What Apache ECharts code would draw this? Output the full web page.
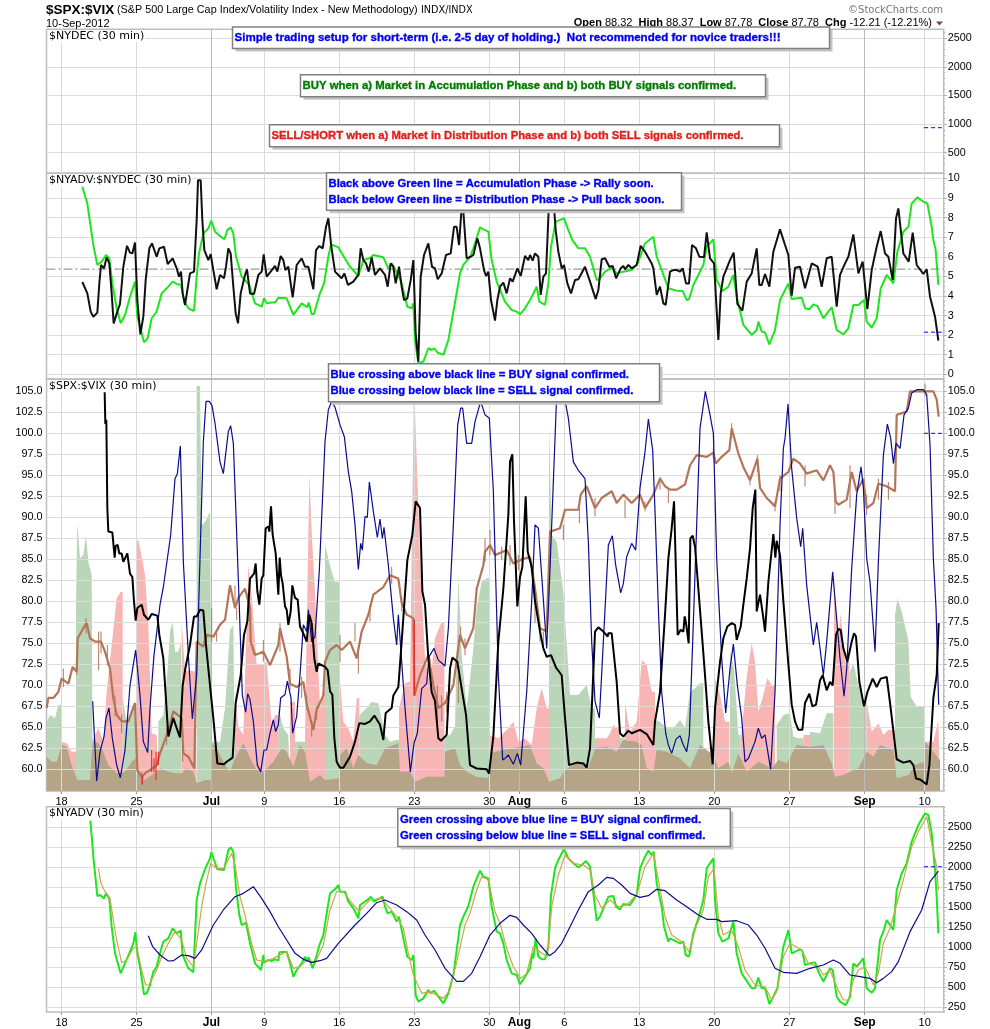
<!DOCTYPE html>
<html>
<head>
<meta charset="utf-8">
<style>html,body{margin:0;padding:0;background:#fff}#c{width:990px;height:1029px}</style>
<script src="https://cdn.jsdelivr.net/npm/echarts@6/dist/echarts.min.js"></script>
</head>
<body>
<div id="c"></div>
<script>
// x of every series is a trading-session scale: 45 units = one trading day
const sessionMin = 139.5, sessionMax = 2831;
const dateTicks = [[184.5,'18'],[409.5,'25'],[634.5,'Jul'],[793,'9'],[1018,'16'],[1243,'23'],[1468,'30'],[1558,'Aug'],[1693,'6'],[1918,'13'],[2143,'20'],[2368,'27'],[2594,'Sep'],[2774,'10']];
const nydecTicks = [500,1000,1500,2000,2500];
const ratioTicks = [0,1,2,3,4,5,6,7,8,9,10];
const spxVixTicks = [60,62.5,65,67.5,70,72.5,75,77.5,80,82.5,85,87.5,90,92.5,95,97.5,100,102.5,105];
const nyadvTicks = [250,500,750,1000,1250,1500,1750,2000,2250,2500];

const ratioBlack = [[247,4.71],[262,4.13],[272,3.20],[280,2.94],[292,3.15],[298,4.64],[303,5.58],[312,5.41],[320,5.97],[328,5.66],[335,4.13],[341,2.60],[352,3.20],[360,3.59],[370,5.49],[381,6.56],[390,6.21],[397,6.17],[405,6.73],[412,3.79],[421,2.04],[430,2.94],[437,4.81],[448,6.43],[456,6.68],[470,6.00],[478,6.43],[492,6.51],[503,5.63],[518,5.92],[530,5.41],[537,4.98],[543,5.24],[548,4.13],[555,3.54],[570,5.15],[582,5.24],[590,7.87],[594,9.91],[602,9.91],[607,7.87],[613,6.34],[625,5.83],[632,6.14],[640,5.32],[650,4.34],[660,5.07],[672,4.90],[678,5.49],[685,6.43],[692,6.17],[700,4.47],[707,3.11],[714,2.60],[722,4.13],[735,5.07],[741,5.36],[750,4.13],[762,4.10],[775,5.07],[785,5.24],[791,6.12],[800,4.98],[812,5.24],[825,5.53],[832,5.24],[842,6.04],[850,5.83],[856,5.32],[865,5.49],[878,3.93],[890,5.58],[905,5.92],[915,5.49],[925,5.49],[940,4.34],[948,6.34],[958,6.55],[968,6.43],[978,7.53],[985,7.96],[994,6.51],[1005,5.24],[1015,5.07],[1025,4.90],[1033,5.15],[1044,4.56],[1060,4.73],[1075,5.07],[1082,6.43],[1090,5.83],[1098,5.66],[1106,5.24],[1115,5.97],[1125,5.07],[1140,5.41],[1155,5.07],[1163,4.47],[1172,5.66],[1180,5.49],[1187,4.64],[1197,5.49],[1205,4.47],[1212,3.79],[1222,3.88],[1232,4.81],[1240,5.83],[1247,2.09],[1255,0.65],[1262,4.98],[1272,6.09],[1285,6.68],[1296,5.49],[1305,5.41],[1313,4.85],[1325,5.15],[1330,5.12],[1338,6.09],[1352,6.17],[1362,7.53],[1370,7.53],[1377,6.60],[1384,8.30],[1390,8.30],[1400,5.92],[1412,6.00],[1420,6.09],[1432,6.94],[1440,6.43],[1452,5.32],[1458,5.02],[1465,5.24],[1473,3.79],[1485,2.74],[1492,3.79],[1500,4.47],
[1510,4.68],[1520,4.13],[1530,4.90],[1538,4.73],[1552,5.41],[1562,5.02],[1575,6.04],[1585,5.83],[1590,6.09],[1598,5.80],[1605,6.17],[1615,6.00],[1622,4.05],[1630,4.98],[1638,5.15],[1648,9.20],[1660,9.00],[1667,7.36],[1675,6.26],[1685,5.41],[1692,5.58],[1702,4.64],[1713,4.13],[1725,4.81],[1735,4.85],[1755,5.49],[1770,4.73],[1787,3.84],[1795,4.30],[1805,5.87],[1815,5.92],[1828,5.49],[1838,5.53],[1848,4.90],[1862,5.41],[1870,5.53],[1875,5.36],[1885,5.58],[1895,5.41],[1910,5.58],[1922,6.56],[1935,6.26],[1955,5.66],[1960,5.41],[1970,4.05],[1980,4.47],[1990,3.62],[1997,3.54],[2010,5.24],[2020,5.32],[2030,5.32],[2040,5.24],[2048,5.41],[2058,4.64],[2067,4.64],[2076,6.60],[2088,6.43],[2098,6.00],[2112,5.97],[2120,7.24],[2130,5.92],[2142,5.66],[2155,1.75],[2162,4.13],[2170,4.98],[2190,5.83],[2201,6.21],[2212,3.59],[2227,3.25],[2240,4.73],[2255,5.15],[2270,6.43],[2278,4.56],[2285,4.56],[2295,5.12],[2308,4.47],[2320,6.26],[2340,7.40],[2355,6.60],[2365,6.09],[2375,4.01],[2385,5.44],[2400,5.49],[2415,4.39],[2435,5.66],[2453,5.49],[2465,4.47],[2480,5.92],[2495,6.00],[2510,3.45],[2520,5.07],[2535,5.66],[2545,6.00],[2560,7.14],[2575,5.15],[2588,5.75],[2602,3.32],[2615,5.32],[2630,6.51],[2642,7.31],[2655,6.17],[2665,6.00],[2678,4.81],[2688,7.96],[2695,8.47],[2710,6.17],[2726,5.75],[2738,7.23],[2750,5.58],[2770,5.12],[2780,5.36],[2790,3.96],[2805,2.94],[2815,1.72]];

const ratioGreen = [[247,9.57],[262,8.72],[272,7.53],[280,6.60],[292,5.58],[305,5.75],[318,6.09],[328,5.92],[337,4.64],[350,3.37],[362,2.60],[375,3.03],[390,3.96],[405,4.73],[412,2.94],[420,2.43],[432,1.63],[443,1.84],[455,2.86],[470,3.20],[485,4.13],[500,4.39],[518,4.73],[530,4.61],[543,4.56],[553,3.71],[565,3.37],[582,3.23],[590,4.98],[597,6.17],[610,7.19],[625,7.45],[634,7.84],[645,7.28],[660,7.06],[673,6.89],[682,7.36],[692,7.50],[700,7.19],[708,6.00],[725,4.98],[748,4.56],[765,3.62],[785,3.45],[792,3.88],[800,3.62],[815,3.66],[825,3.66],[835,3.91],[860,3.88],[880,3.03],[905,3.62],[922,3.42],[926,3.66],[935,3.08],[942,3.08],[958,4.05],[972,4.64],[985,6.00],[993,6.63],[1015,6.48],[1030,6.04],[1050,5.49],[1075,5.02],[1090,5.83],[1110,5.92],[1120,6.09],[1150,5.97],[1165,5.41],[1175,5.66],[1195,5.07],[1205,4.64],[1222,3.45],[1235,3.37],[1240,3.62],[1245,1.75],[1255,0.56],[1270,0.65],[1285,1.33],[1295,1.24],[1303,1.33],[1312,1.11],[1330,0.99],[1345,1.75],[1362,3.37],[1380,5.15],[1390,5.58],[1410,6.00],[1420,6.43],[1440,7.50],[1450,7.40],[1465,7.28],[1475,5.83],[1490,4.73],
[1515,3.71],[1535,3.28],[1550,3.20],[1560,3.06],[1575,3.37],[1590,3.79],[1598,4.05],[1603,3.96],[1610,4.47],[1618,3.71],[1635,3.54],[1645,4.64],[1653,6.51],[1667,7.79],[1692,7.96],[1705,7.36],[1717,6.85],[1735,6.43],[1755,6.43],[1770,6.00],[1790,4.81],[1800,4.90],[1815,5.24],[1835,5.44],[1850,5.15],[1870,5.24],[1895,5.32],[1913,5.66],[1935,6.68],[1960,7.02],[1970,6.00],[1985,5.32],[2005,4.39],[2030,4.27],[2048,4.25],[2060,3.79],[2067,3.83],[2080,4.56],[2110,5.58],[2120,6.51],[2140,6.89],[2150,4.81],[2167,4.25],[2185,4.47],[2200,5.07],[2210,3.96],[2230,2.52],[2255,2.01],[2270,2.26],[2275,2.69],[2285,2.18],[2295,2.13],[2308,1.53],[2325,2.26],[2340,3.79],[2365,4.64],[2375,3.84],[2405,3.91],[2415,3.37],[2428,3.32],[2440,3.57],[2452,3.49],[2470,2.86],[2485,3.20],[2495,3.42],[2510,2.26],[2530,2.04],[2545,2.35],[2560,3.54],[2575,3.54],[2592,3.79],[2600,2.69],[2615,2.38],[2630,2.86],[2642,4.39],[2660,5.07],[2680,4.64],[2692,6.26],[2710,7.28],[2725,7.53],[2735,8.72],[2752,9.03],[2770,8.81],[2782,8.72],[2795,7.53],[2800,6.85],[2807,6.34],[2815,4.56]];

const spxVixBlack = [[314,104.9],[316,101.1],[319,101.6],[322,91.1],[325,88.3],[337,88.2],[344,85.2],[347,86.6],[353,86.7],[358,85.7],[365,85.7],[370,84.7],[382,85.7],[390,83.3],[397,82.9],[402,80.0],[407,77.7],[412,79.2],[425,79.6],[432,78.4],[445,77.8],[455,78.5],[472,78.3],[478,76.0],[490,73.2],[497,68.9],[505,63.9],[520,66.1],[530,64.9],[540,63.8],[548,70.0],[556,72.0],[570,74.8],[582,78.2],[590,78.2],[600,79.0],[610,78.9],[618,74.8],[630,70.0],[640,66.1],[652,60.7],[672,60.6],[680,60.9],[698,61.4],[707,67.9],[722,71.2],[732,76.0],[742,77.6],[750,82.7],[762,83.3],[767,84.5],[772,81.2],[778,79.6],[785,82.7],[790,83.1],[797,88.7],[805,88.9],[808,88.3],[813,91.3],[818,87.9],[827,85.7],[835,80.8],[839,85.2],[843,83.1],[848,82.1],[855,79.4],[860,79.0],[865,77.2],[872,78.8],[877,81.9],[885,80.4],[893,80.2],[900,77.0],[912,76.0],[920,75.2],[928,78.4],[935,77.4],[943,73.2],[950,71.6],[955,72.6],[975,72.2],[983,71.8],[990,69.3],[997,68.9],[1003,63.7],[1010,60.9],[1020,60.2],
[1030,60.2],[1050,61.5],[1065,63.3],[1078,65.5],[1095,65.4],[1110,65.7],[1123,66.4],[1140,65.3],[1150,63.5],[1157,66.7],[1175,67.3],[1180,68.8],[1195,69.8],[1205,75.2],[1222,84.9],[1237,87.9],[1247,91.9],[1260,91.1],[1267,81.2],[1275,79.6],[1285,73.2],[1295,69.2],[1305,68.1],[1315,63.7],[1323,63.4],[1340,64.1],[1350,72.0],[1357,73.3],[1372,72.8],[1385,69.6],[1398,66.5],[1410,60.5],[1430,60.1],[1460,60.0],[1467,59.5],[1480,63.9],[1495,75.2],[1510,81.5],[1525,90.3],[1530,96.6],[1537,97.5],[1542,89.5],[1552,79.4],[1560,82.9],[1567,84.1],[1577,92.5],[1583,85.9],[1595,84.1],[1605,80.0],[1620,76.4],[1630,74.4],[1640,73.4],[1653,73.6],[1668,72.1],[1685,71.2],[1695,66.1],[1707,60.5],[1730,60.8],[1750,60.7],[1760,60.2],[1770,62.5],[1780,71.6],[1785,76.4],[1795,76.9],[1810,76.4],[1823,75.8],[1825,76.2],[1835,76.2],[1850,70.4],[1860,64.3],[1870,63.9],[1885,64.6],[1895,64.3],[1920,64.7],[1940,64.2],[1960,62.9],[1965,65.7],[1980,69.2],[1995,78.4],
[2005,85.1],[2015,88.7],[2022,91.9],[2027,91.9],[2033,76.0],[2042,76.6],[2050,76.4],[2054,78.2],[2058,77.4],[2066,75.0],[2071,87.5],[2078,87.8],[2085,86.5],[2095,81.5],[2105,76.4],[2115,71.2],[2125,65.7],[2138,60.6],[2145,67.3],[2160,72.8],[2170,75.6],[2182,77.0],[2195,77.4],[2205,77.2],[2210,75.4],[2222,77.0],[2230,79.6],[2240,82.7],[2250,86.3],[2258,91.1],[2266,93.3],[2270,78.8],[2280,80.8],[2290,78.0],[2295,76.4],[2305,82.3],[2310,82.5],[2320,88.0],[2326,85.2],[2330,87.2],[2340,85.5],[2350,80.0],[2362,74.0],[2375,67.7],[2385,65.7],[2395,64.7],[2407,64.7],[2415,67.9],[2428,69.0],[2437,67.5],[2448,67.7],[2460,70.6],[2468,71.2],[2480,69.4],[2490,70.4],[2498,70.0],[2508,76.0],[2515,76.7],[2522,76.6],[2530,74.4],[2542,72.8],[2555,75.2],[2562,76.2],[2568,75.8],[2578,70.4],[2592,67.5],[2602,69.2],[2618,70.8],[2630,69.8],[2642,70.8],[2660,71.0],[2670,67.9],[2690,61.2],[2710,60.8],[2730,61.0],[2740,60.5],[2748,58.9],[2760,58.8],[2780,58.2],[2788,60.5],[2800,68.5],[2810,71.2],[2816,77.4]];

const spxVixBlue = [[278,68.1],[283,68.1],[290,58.6],[300,62.1],[312,63.9],[318,66.1],[327,67.3],[337,63.7],[350,60.5],[361,59.0],[375,62.3],[390,70.0],[407,74.2],[420,68.8],[430,63.3],[443,62.0],[450,67.3],[462,73.6],[480,79.6],[490,81.7],[505,85.9],[512,87.9],[525,94.6],[532,95.2],[541,98.5],[550,84.7],[565,73.6],[577,66.0],[590,71.2],[600,85.1],[610,99.0],[618,103.8],[628,103.8],[636,103.3],[645,101.2],[660,96.6],[670,95.2],[685,100.2],[692,100.9],[700,98.8],[708,90.3],[718,79.2],[727,68.8],[737,66.8],[743,69.0],[750,68.3],[760,65.7],[772,60.5],[782,59.7],[792,62.3],[800,62.3],[810,64.3],[820,65.9],[827,64.5],[835,65.3],[842,68.5],[855,68.9],[862,70.5],[873,68.5],[878,64.3],[890,66.3],[900,71.2],[910,77.2],[920,76.4],[925,79.0],[935,75.2],[945,75.8],[958,83.7],[962,83.9],[975,99.0],[985,102.8],[995,103.8],[1005,103.1],[1020,101.0],
[1033,99.6],[1045,95.4],[1055,93.1],[1065,89.1],[1075,83.8],[1082,86.9],[1087,86.1],[1095,90.1],[1102,90.0],[1108,94.2],[1120,90.7],[1132,87.6],[1140,89.8],[1147,87.5],[1152,88.8],[1165,84.3],[1180,78.0],[1190,74.8],[1195,78.4],[1205,72.8],[1215,67.3],[1231,59.7],[1242,63.1],[1252,64.3],[1265,69.6],[1280,70.2],[1287,73.4],[1302,74.4],[1315,73.0],[1335,72.3],[1345,76.8],[1360,89.1],[1373,101.0],[1382,103.0],[1388,103.0],[1400,98.8],[1415,98.8],[1425,101.4],[1442,103.8],[1455,102.2],[1468,101.8],[1480,93.1],[1495,71.2],[1508,61.1],[1515,61.3],[1525,61.7],[1540,60.6],[1552,61.9],[1562,60.5],[1580,69.2],[1595,80.0],[1605,89.1],[1615,88.7],[1625,83.1],[1640,74.4],[1650,83.9],[1670,104.6],[1690,105.0],[1705,101.8],[1720,96.6],[1735,95.6],[1755,94.6],[1765,87.1],[1775,75.2],[1785,68.1],[1798,66.1],[1810,75.2],[1825,86.7],[1837,87.8],[1847,84.3],[1862,81.0],[1870,82.1],[1880,85.3],[1895,86.9],[1907,86.1],[1920,93.5],[1935,97.8],[1945,101.7],
[1958,98.0],[1965,90.7],[1975,79.2],[1985,69.2],[1997,64.3],[2005,62.9],[2015,61.9],[2028,63.6],[2040,64.0],[2050,62.9],[2060,62.1],[2068,64.1],[2078,75.2],[2090,89.1],[2100,100.6],[2116,105.0],[2130,102.2],[2140,100.0],[2150,85.1],[2165,73.2],[2177,66.7],[2190,72.0],[2200,74.9],[2212,70.0],[2225,66.1],[2235,60.9],[2245,61.3],[2265,63.3],[2275,64.9],[2285,63.7],[2295,64.1],[2312,60.0],[2325,69.2],[2340,89.1],[2350,98.2],[2355,99.4],[2364,103.5],[2375,95.8],[2390,89.9],[2402,86.5],[2408,88.7],[2420,81.9],[2440,74.8],[2450,77.5],[2460,74.4],[2470,71.2],[2480,75.2],[2498,83.5],[2502,83.5],[2520,73.2],[2532,68.7],[2540,72.0],[2555,83.9],[2570,92.7],[2583,96.0],[2590,93.5],[2600,85.1],[2610,82.3],[2625,74.0],[2635,84.7],[2650,97.4],[2662,101.1],[2672,99.4],[2680,96.4],[2688,98.8],[2700,98.2],[2712,102.2],[2725,103.0],[2735,104.8],[2750,105.2],[2770,105.2],[2780,104.6],[2790,98.6],[2800,85.1],[2808,79.2],[2816,67.7]];

const spxVixPrice = [[140,67.3],[145,68.5],[160,68.5],[175,69.2],[185,70.8],[205,70.2],[218,72.2],[230,71.6],[233,75.6],[250,76.8],[260,77.4],[270,75.6],[285,75.2],[303,75.2],[315,74.0],[330,72.0],[340,68.5],[350,66.5],[365,65.7],[385,65.7],[405,67.9],[412,59.9],[425,59.1],[440,59.7],[450,59.9],[470,60.5],[480,61.9],[495,63.5],[510,65.3],[520,66.9],[545,66.1],[550,61.9],[565,61.5],[583,60.1],[590,75.2],[610,74.6],[620,76.0],[640,75.8],[660,77.2],[675,77.8],[690,81.9],[705,79.2],[715,80.4],[735,81.5],[750,79.2],[752,75.2],[765,73.6],[790,74.0],[810,72.4],[835,74.8],[840,76.8],[860,73.4],[870,70.2],[890,69.8],[910,70.4],[920,67.7],[940,64.7],[950,67.1],[970,68.8],[975,72.8],[990,74.2],[1010,74.8],[1025,74.2],
[1050,75.2],[1070,73.2],[1085,76.4],[1105,78.4],[1120,80.8],[1150,81.7],[1170,83.1],[1195,82.7],[1205,79.8],[1220,78.4],[1240,78.0],[1243,68.8],[1260,71.2],[1285,73.6],[1300,70.0],[1315,67.3],[1335,67.9],[1360,70.0],[1380,76.0],[1395,74.4],[1420,76.8],[1430,81.5],[1450,84.3],[1455,85.9],[1470,86.7],[1485,85.5],[1520,86.1],[1540,84.5],[1560,84.9],[1590,85.3],[1605,81.5],[1620,76.8],[1640,76.4],[1650,88.3],[1680,88.7],[1695,90.9],[1735,90.9],[1742,92.7],[1760,93.7],[1785,91.1],[1805,92.3],[1835,93.1],[1850,91.7],[1870,92.7],[1895,91.7],[1920,92.7],[1935,91.1],[1960,92.7],
[1980,94.6],[1995,93.7],[2010,93.3],[2030,93.3],[2055,93.9],[2070,96.2],[2090,97.4],[2120,97.2],[2140,97.7],[2147,96.4],[2165,97.2],[2188,98.0],[2195,100.6],[2215,97.6],[2232,95.8],[2250,94.4],[2272,97.0],[2280,93.5],[2300,92.3],[2325,91.3],[2340,94.6],[2365,95.4],[2380,97.0],[2400,96.4],[2420,95.2],[2450,95.6],[2470,94.4],[2490,96.2],[2500,95.4],[2507,91.9],[2515,91.5],[2540,92.1],[2555,95.4],[2570,93.1],[2590,94.6],[2600,91.1],[2620,91.7],[2635,94.0],[2660,93.7],[2685,93.1],[2690,102.2],[2720,102.6],[2730,105.0],[2775,105.0],[2800,105.0],[2810,104.0],[2816,102.0]];

// high-low range of individual price bars that stick out from the line
const priceRanges = [[190,72.0,69.8],[230,72.8,71.2],[258,78.0,76.2],[296,76.4,71.8],[303,76.4,73.8],[322,74.8,72.4],[345,68.8,66.3],[365,66.5,64.3],[425,59.7,58.2],[500,65.0,62.9],[548,61.9,60.9],[635,79.2,75.2],[650,76.4,75.2],[705,81.9,79.2],[710,79.2,77.8],[790,75.4,72.8],[840,77.4,74.0],[870,72.0,69.4],[905,71.0,68.5],[920,68.8,67.1],[935,65.3,63.9],[950,67.5,65.9],[1020,76.0,72.8],[1065,77.4,75.2],[1075,74.4,71.4],[1110,79.6,77.6],[1175,84.1,82.1],[1205,80.4,78.8],[1290,73.2,70.8],[1312,70.0,65.6],[1325,68.8,65.7],[1340,69.2,66.7],[1375,71.2,67.9],[1382,77.0,75.2],[1395,75.6,73.6],[1455,87.5,84.7],[1470,88.5,85.5],[1505,86.5,84.9],[1530,86.7,84.3],[1555,85.5,83.7],[1605,81.9,77.4],[1620,77.2,75.2],[1630,76.4,74.4],[1690,89.1,87.3],[1738,91.1,89.3],[1785,92.3,90.1],[1875,92.1,89.9],[1935,91.9,90.7],[1980,94.8,93.3],[2005,93.3,91.7],[2140,98.2,97.0],[2195,101.2,99.4],[2250,95.0,93.8],[2272,97.4,95.4],[2325,91.9,90.7],[2340,95.0,93.1],[2415,96.2,93.7],[2505,92.7,90.4],[2550,96.2,91.1],[2600,92.7,90.3],[2635,94.6,92.1],[2665,94.2,92.1],[2775,105.9,104.4]];
const priceDownTicks = [[[1243,77.8],[1243,68.7]],[[427,59.3],[427,58.2]],[[455,62.3],[455,59.7]],[[462,61.3],[462,59.7]],[[468,62.1],[468,58.7]],[[475,62.1],[475,60.5]]];

// volume, read in its own unlabelled units (tall blocks are a higher volume)
const greenVolume = [
[[140,20.8],[150,22.8],[165,21.8],[175,25.8],[185,25.8]],
[[228,55.8],[232,80.3],[240,69.8],[250,70.8],[258,76.8],[265,68.8],[275,64.8],[278,64.8]],
[[368,27.8],[380,20.8],[395,24.8],[408,24.8]],
[[475,20.8],[490,22.8],[503,36.8],[510,47.8],[518,50.8],[525,41.8],[535,41.8],[543,44.8],[545,44.8]],
[[590,121.5],[600,121.5],[605,79.8],[615,80.8],[630,83.8],[635,14.8],[660,14.8],[675,24.8],[690,48.3],[700,49.8],[705,49.8]],
[[835,24.8],[850,18.8],[865,16.8],[870,16.8]],
[[885,14.8],[915,14.8]],
[[975,73.8],[995,65.8],[1005,62.8],[1018,62.8]],
[[1078,22.8],[1100,24.8],[1115,26.8],[1135,26.3],[1155,16.8],[1170,14.8],[1185,15.3],[1197,15.3]],
[[1333,16.3],[1350,16.8],[1365,19.3],[1375,64.8],[1385,40.8],[1400,24.8],[1420,42.8],[1430,54.8],[1445,62.8],[1460,63.8],[1468,63.8]],
[[1647,110.3],[1655,76.8],[1670,74.8],[1690,59.8],[1710,28.8],[1735,28.8],[1760,31.8],[1775,24.8],[1785,24.8]],
[[1860,15.8],[1875,15.8]],
[[1965,21.3],[1980,20.8],[2000,18.8],[2020,18.8],[2040,21.3],[2055,18.8],[2070,29.8],[2085,30.8],[2100,32.3],[2110,32.3]],
[[2190,41.8],[2202,36.8],[2215,16.8],[2222,16.8]],
[[2330,19.8],[2350,22.8],[2370,23.3],[2380,16.3],[2395,15.8],[2410,15.8]],
[[2430,17.8],[2460,17.3],[2480,23.3],[2500,23.3]],
[[2548,35.3],[2560,38.3],[2575,31.8],[2590,27.3],[2600,27.3]],
[[2685,52.8],[2692,57.8],[2705,53.8],[2725,45.3],[2732,28.3],[2750,25.3],[2772,25.3]]];
const redVolume = [
[[185,14.8],[200,14.3],[215,11.8],[228,11.8]],
[[278,15.3],[295,18.8],[310,14.8],[320,29.8],[335,43.8],[350,57.8],[362,59.8],[368,59.8]],
[[408,74.8],[415,75.3],[425,70.3],[435,64.8],[445,49.8],[455,17.3],[470,16.8],[475,16.8]],
[[545,50.8],[555,35.8],[570,36.3],[585,35.8],[590,35.8]],
[[705,30.8],[715,19.3],[730,16.8],[745,67.8],[755,58.8],[770,37.8],[785,37.8],[800,38.8],[815,19.8],[825,22.8],[835,22.8]],
[[870,26.8],[885,26.8]],
[[915,17.3],[928,94.8],[935,77.8],[945,59.8],[960,24.8],[968,29.8],[975,29.8]],
[[1018,35.3],[1030,20.8],[1045,18.8],[1060,14.8],[1070,27.8],[1078,27.8]],
[[1197,24.8],[1215,32.3],[1230,32.8],[1242,123],[1250,99.8],[1260,69.8],[1275,39.8],[1290,31.8],[1305,45.8],[1325,50.8],[1333,50.8]],
[[1468,16.8],[1495,15.8],[1525,18.8],[1540,20.8],[1555,14.8],[1575,15.8],[1595,13.8],[1610,24.8],[1625,30.8],[1640,24.8],[1647,24.8]],
[[1785,15.8],[1820,15.8],[1830,17.3],[1840,19.8],[1850,18.8],[1860,18.8]],
[[1875,26.3],[1890,17.8],[1910,20.8],[1925,39.3],[1940,37.8],[1955,29.8],[1965,29.8]],
[[2145,33.8],[2160,28.8],[2175,20.8],[2188,20.8]],
[[2222,14.8],[2240,34.3],[2255,44.3],[2265,38.8],[2275,23.8],[2290,28.8],[2302,33.8],[2315,31.8],[2325,31.8]],
[[2410,16.8],[2430,16.8]],
[[2502,62.3],[2515,45.8],[2522,53.3],[2535,38.8],[2548,38.8]],
[[2600,26.8],[2615,17.8],[2635,20.3],[2650,16.8],[2665,18.3],[2685,18.3]],
[[2775,14.8],[2800,14.8],[2815,21.3],[2820,21.3]]];
const baseVolume = [[140,10.3],[155,8.8],[170,8.8],[185,13.8],[200,13.3],[215,7.8],[232,3.3],[270,3.3],[278,15.3],[295,14.3],[310,11.8],[325,7.8],[350,5.3],[375,5.8],[395,8.8],[408,9.8],[415,6.3],[435,3.3],[455,4.8],[480,6.8],[505,5.8],[530,5.3],[545,5.3],[560,6.8],[580,5.8],[590,2.3],[615,3.3],[635,3.3],[637,14.3],[655,11.8],[675,7.8],[690,5.8],[705,9.8],[730,14.3],[750,9.8],[770,6.3],[790,5.8],[820,8.8],[845,12.8],[860,11.8],[880,7.3],[900,13.8],[915,11.8],[930,2.8],[960,4.8],[975,3.3],[1018,3.8],
[1020,10.8],[1040,12.8],[1060,6.8],[1075,10.8],[1100,8.3],[1130,7.8],[1155,12.8],[1195,14.3],[1200,5.8],[1230,5.8],[1245,2.8],[1280,4.3],[1333,4.3],[1335,11.8],[1365,12.8],[1380,7.8],[1400,5.8],[1430,4.3],[1465,3.8],[1470,11.3],[1510,12.3],[1560,13.3],[1590,13.8],[1610,8.3],[1630,6.8],[1647,2.8],[1680,3.8],[1695,6.3],[1735,8.8],[1765,6.8],[1785,12.8],[1820,13.3],[1850,11.8],[1870,15.3],[1910,14.8],[1925,13.8],[1940,6.8],[1960,5.8],
[1970,12.3],[2000,11.8],[2040,9.8],[2070,6.8],[2100,13.8],[2140,10.8],[2155,6.8],[2185,8.8],[2195,5.3],[2215,11.3],[2240,5.8],[2275,8.8],[2315,6.8],[2335,9.3],[2360,8.3],[2390,13.8],[2430,13.3],[2470,13.8],[2495,8.3],[2505,4.3],[2530,4.8],[2550,5.8],[2575,6.8],[2600,11.8],[2620,10.3],[2640,13.8],[2680,12.3],[2690,3.8],[2725,4.8],[2745,7.8],[2772,8.8],[2775,14.8],[2820,9.3]];

const nyadvGreen = [[271,2583],[281,2092],[292,1642],[300,1654],[312,1612],[318,1675],[328,1612],[335,1258],[345,925],[362,675],[375,800],[390,946],[400,1050],[406,1188],[412,925],[420,758],[432,412],[440,425],[450,529],[460,696],[470,758],[480,925],[490,1071],[505,1112],[518,1238],[530,1175],[542,1208],[548,904],[565,738],[580,688],[590,1592],[600,1800],[615,1979],[630,2112],[634,2188],[642,2092],[652,1975],[672,1967],[685,2217],[692,2250],[700,2196],[708,1738],[718,1404],[725,1279],[738,1308],[750,1050],[765,800],[783,717],[790,904],[792,808],[805,842],[815,829],[825,850],[835,833],[838,938],[860,946],[870,800],[880,633],[890,717],[905,800],[915,883],[922,829],[926,875],[938,738],[950,904],[960,1050],[970,1154],[980,1425],[990,1675],[1005,1725],[1015,1779],[1020,1696],[1035,1696],[1045,1571],[1060,1488],[1075,1362],[1080,1529],[1095,1571],[1105,1600],[1112,1633],[1122,1571],[1148,1633],[1155,1508],[1163,1425],[1175,1446],[1190,1321],[1197,1383],[1210,1112],[1222,883],[1235,842],[1240,904],[1247,404],[1255,321],[1270,362],[1285,467],[1292,425],[1302,458],[1315,383],[1330,300],[1345,425],[1360,654],[1380,1279],[1390,1383],[1405,1517],[1420,1758],[1440,1958],[1450,1883],[1465,1862],[1475,1508],[1490,1196],[1500,1175],
[1510,1050],[1520,842],[1535,675],[1550,654],[1560,538],[1575,633],[1590,738],[1597,925],[1600,862],[1607,1112],[1615,883],[1625,850],[1635,850],[1645,1008],[1653,1654],[1665,1988],[1675,2092],[1692,2229],[1705,2112],[1720,2050],[1735,2000],[1745,2029],[1758,2079],[1770,2008],[1780,1675],[1790,1333],[1800,1383],[1810,1488],[1825,1633],[1840,1642],[1848,1508],[1860,1475],[1870,1542],[1890,1529],[1910,1654],[1920,1988],[1935,2133],[1945,2208],[1955,2154],[1961,2196],[1970,1800],[1985,1508],[1992,1258],[2005,1071],[2010,1112],[2040,1050],[2050,1071],[2057,904],[2067,883],[2080,1175],[2095,1362],[2110,1592],[2120,1988],[2140,2112],[2145,1592],[2155,1175],[2167,1071],[2185,1112],[2200,1321],[2210,925],[2225,675],[2245,550],[2255,488],[2265,488],[2275,621],[2285,488],[2295,488],[2308,292],[2320,383],[2332,488],[2350,1008],[2365,1217],[2375,925],[2400,975],[2407,954],[2415,779],[2430,800],[2445,812],[2455,696],[2470,571],[2490,738],[2498,717],[2510,383],[2520,321],[2537,279],[2550,383],[2560,800],[2570,758],[2590,862],[2600,488],[2615,433],[2625,488],[2640,1092],[2650,1196],[2660,1342],[2680,1217],[2690,1717],[2705,1925],[2720,2050],[2735,2321],[2755,2529],[2775,2675],[2785,2654],[2795,2425],[2805,1967],[2810,1633],[2815,1175]];

const nyadvMA = [[295,1988],[303,1800],[315,1696],[330,1612],[340,1342],[350,1092],[365,808],[380,842],[400,988],[410,1008],[425,717],[437,529],[447,529],[470,717],[485,883],[505,1050],[525,1196],[545,1092],[560,862],[580,758],[590,1050],[605,1508],[618,1800],[632,2050],[650,1988],[672,1988],[695,2175],[705,2029],[720,1633],[735,1404],[755,1050],[770,842],[790,821],[820,862],[860,946],[880,738],[900,758],[920,842],[945,800],[970,1029],[990,1467],[1010,1696],[1030,1696],[1060,1529],[1078,1446],[1090,1508],[1110,1592],[1145,1612],[1165,1508],[1190,1383],[1210,1238],[1225,925],[1240,654],[1265,425],[1290,446],[1330,362],[1350,467],[1375,904],[1395,1279],[1410,1425],[1430,1717],[1445,1883],[1465,1842],[1485,1446],[1500,1300],
[1520,988],[1540,758],[1562,612],[1580,675],[1600,1008],[1620,946],[1642,883],[1655,1508],[1675,1904],[1695,2154],[1720,2050],[1750,2029],[1770,1967],[1785,1654],[1805,1488],[1830,1592],[1855,1508],[1880,1529],[1910,1654],[1935,2008],[1960,2175],[1975,1842],[1995,1383],[2015,1154],[2045,1071],[2067,946],[2090,1279],[2110,1467],[2125,1883],[2142,1988],[2155,1383],[2170,1154],[2195,1217],[2215,1008],[2235,717],[2265,529],[2295,508],[2315,342],[2330,446],[2350,883],[2370,1050],[2405,967],[2425,800],[2455,758],[2470,654],[2490,717],[2510,508],[2530,342],[2545,342],[2560,592],[2575,717],[2595,758],[2620,529],[2635,675],[2650,1050],[2670,1238],[2685,1467],[2710,1842],[2735,2258],[2755,2446],[2780,2633],[2795,2300],[2810,2008],[2815,1717]];

const nyadvAvg = [[445,1146],[458,1008],[480,904],[505,829],[520,833],[545,904],[565,896],[585,862],[605,967],[640,1279],[670,1467],[705,1633],[730,1675],[760,1758],[785,1612],[810,1446],[835,1258],[860,1092],[885,925],[910,850],[935,812],[960,833],[980,862],[1015,1050],[1065,1279],[1100,1425],[1130,1558],[1155,1592],[1190,1529],[1220,1446],[1250,1342],[1275,1154],[1305,967],[1335,738],[1370,575],[1390,575],[1415,675],[1440,883],[1470,1154],[1500,1300],
[1530,1400],[1550,1375],[1570,1279],[1595,1175],[1620,1029],[1648,896],[1665,946],[1685,1050],[1710,1258],[1735,1467],[1765,1696],[1795,1779],[1820,1875],[1840,1862],[1865,1779],[1890,1675],[1920,1625],[1945,1646],[1970,1725],[1995,1708],[2030,1592],[2060,1508],[2095,1404],[2120,1350],[2150,1350],[2165,1321],[2210,1333],[2245,1279],[2270,1154],[2295,988],[2325,738],[2350,688],[2390,675],[2430,738],[2470,779],[2500,842],[2520,800],[2550,654],[2580,633],[2610,612],[2630,558],[2650,612],[2675,696],[2695,821],[2730,1196],[2765,1467],[2790,1821],[2815,1954]];

const lastValueStubs = {nydec: 936, ratio: 2.15, spxVix: 100, nyadv: 2008};
const stubRange = [2772, 2825];
const ratioMeanLevel = 5.37;

const headerLabel = '{b|Open} 88.32  {b|High} 88.37  {b|Low} 87.78  {b|Close} 87.78  {b|Chg} -12.21 (-12.21%)';

const FONT = '"Liberation Sans", Arial, sans-serif';
const GRID = '#dcdcdc', FRAME = '#bdbdbd';
const grids = [
  {top:29.3, height:144},
  {top:173.3, height:205.7},
  {top:379.3, height:411.7},
  {top:806.7, height:205.3}
].map(g => ({...g, left:46.5, right:46.3, show:true, borderColor:FRAME, borderWidth:1.5, backgroundColor:'#fff', z:0}));

const monthNames = ['Jul','Aug','Sep'];
const dateValues = dateTicks.map(d => d[0]);
const dateMap = new Map(dateTicks);
function xAxis(gridIndex, labels){
  return {type:'value', gridIndex, min:sessionMin, max:sessionMax, z:1,
    axisLine:{show:false},
    axisTick:{show:labels, length:3, customValues:dateValues, lineStyle:{color:'#999'}},
    axisLabel:{show:labels, customValues:dateValues, margin:5, fontFamily:FONT, fontSize:11, color:'#000',
      formatter:v => { const s = dateMap.get(v); return monthNames.includes(s) ? '{b|'+s+'}' : s; },
      rich:{b:{fontFamily:FONT, fontSize:12, fontWeight:'bold', color:'#000'}}},
    splitLine:{show:true, lineStyle:{width:1, color:dateTicks.map(d => monthNames.includes(d[1]) ? '#bcbcbc' : '#dadada')}}
  };
}
function yAxis(gridIndex, min, max, ticks, position, fmt, split){
  return {type:'value', gridIndex, min, max, position, z:1,
    axisLine:{show:false},
    axisTick:{show:position==='right', length:3, customValues:ticks, lineStyle:{color:'#aaa', width:1}},
    axisLabel:{customValues:ticks, margin:4, fontFamily:FONT, fontSize:10.8, color:'#000', formatter:fmt},
    splitLine:{show:split, lineStyle:{color:GRID, width:1}}
  };
}
function dotAxis(gridIndex, min, max, step){
  const vals=[]; for(let v=Math.ceil(min/step)*step; v<=max; v+=step) vals.push(v);
  return {type:'value', gridIndex, min, max, position:'right', z:1, axisLine:{show:false}, axisLabel:{show:false}, splitLine:{show:false},
    axisTick:{show:true, length:1.5, customValues:vals, lineStyle:{color:'#b5b5b5', width:1}}};
}
const fmt0 = v => String(v), fmt1 = v => v.toFixed(1);
const xAxes = [xAxis(0,false), xAxis(1,false), xAxis(2,true), xAxis(3,true)];
const yAxes = [
  yAxis(0, 138.5, 2657, nydecTicks, 'right', fmt0, true),
  yAxis(1, -0.24, 10.26, ratioTicks, 'right', fmt0, true),
  yAxis(2, 57.42, 106.43, spxVixTicks, 'right', fmt1, true),
  yAxis(2, 57.42, 106.43, spxVixTicks, 'left', fmt1, false),
  {type:'value', gridIndex:2, min:0, max:123.5, show:false},
  yAxis(3, 191.7, 2758, nyadvTicks, 'right', fmt0, true),
  dotAxis(0, 138.5, 2657, 100),
  dotAxis(1, -0.24, 10.26, 0.25),
  dotAxis(2, 57.42, 106.43, 0.625),
  dotAxis(3, 191.7, 2758, 50)
];
function line(name, data, xi, yi, color, width, z, extra){
  return Object.assign({name, type:'line', data, xAxisIndex:xi, yAxisIndex:yi, showSymbol:false, symbol:'none',
    lineStyle:{color, width}, z, silent:true, animation:false, connectNulls:false}, extra||{});
}
function blocks(list){
  const out=[]; list.forEach(b => { b.forEach(p => out.push(p)); out.push([b[b.length-1][0], null]); }); return out;
}
function area(name, data, color, z){
  return line(name, data, 2, 4, color, 0, z, {areaStyle:{color, opacity:1, origin:'start'}, lineStyle:{width:0, color}});
}
function stub(name, v, xi, yi){
  return line(name, [[stubRange[0],v],[stubRange[1],v]], xi, yi, '#0000ff', 1, 5, {lineStyle:{color:'#0000ff', width:1, type:[4,3]}});
}
const rangeSegments = blocks(priceRanges.map(r => [[r[0],r[1]],[r[0],r[2]]]));
const series = [
  area('Up volume', blocks(greenVolume), '#bad6b8', 0),
  area('Down volume', blocks(redVolume), '#f7b5b3', 0),
  area('Volume', baseVolume, '#b5a586', 0.5),
  stub('NYDEC last', lastValueStubs.nydec, 0, 0),
  line('Ratio mean', [[sessionMin,ratioMeanLevel],[sessionMax,ratioMeanLevel]], 1, 1, '#808080', 1, 2, {lineStyle:{color:'#808080', width:1, type:[9,3,2,3]}}),
  line('NYADV:NYDEC EMA', ratioGreen, 1, 1, '#1de61d', 2, 3),
  line('NYADV:NYDEC', ratioBlack, 1, 1, '#111', 2, 4),
  stub('Ratio last', lastValueStubs.ratio, 1, 1),
  line('SPX:VIX', spxVixPrice, 2, 2, '#b3755a', 2.2, 2),
  line('SPX:VIX range', rangeSegments, 2, 2, '#b3755a', 1, 2),
  line('SPX:VIX down', blocks(priceDownTicks), 2, 2, '#e8201a', 1, 3),
  line('SPX:VIX fast', spxVixBlue, 2, 2, '#0c0c8e', 1.2, 3),
  line('SPX:VIX slow', spxVixBlack, 2, 2, '#000', 2, 4),
  stub('SPX:VIX last', lastValueStubs.spxVix, 2, 2),
  line('NYADV', nyadvGreen, 3, 5, '#1de61d', 2, 3),
  line('NYADV MA', nyadvMA, 3, 5, '#c9a84a', 1.2, 4),
  line('NYADV long MA', nyadvAvg, 3, 5, '#0c0c8e', 1.2, 5),
  stub('NYADV last', lastValueStubs.nyadv, 3, 5)
];

// annotation boxes, header and panel labels
function box(x, y, w, h, lines, color, tx, ty, dy, size){
  const els = [
    {type:'rect', z:50, shape:{x:x+3, y:y+3, width:w, height:h}, style:{fill:'#c4c4c4'}, silent:true},
    {type:'rect', z:51, shape:{x, y, width:w, height:h}, style:{fill:'#fff', stroke:'#808080', lineWidth:1.5}, silent:true}
  ];
  lines.forEach((t,i) => els.push({type:'text', z:52, x:tx, y:ty+i*dy, silent:true,
    style:{text:t, fill:color, stroke:color, lineWidth:0.35, font:'bold '+(size||11.3)+'px "Liberation Sans", Arial, sans-serif', textVerticalAlign:'middle', textBaseline:'middle'}}));
  return els;
}
function txt(x, y, t, font, fill, align, bg){
  return {type:'text', z:40, x, y, silent:true,
    style:{text:t, font, fill:fill||'#000', textAlign:align||'left', textBaseline:'middle', textVerticalAlign:'middle',
      backgroundColor:bg||undefined, padding:bg?[0,1,0,1]:undefined}};
}
const PANELFONT = '11px "DejaVu Sans", sans-serif';
const headerEl = txt(932, 23, headerLabel, '11px "Liberation Sans", Arial, sans-serif', '#000', 'right');
headerEl.style.rich = {b:{font:'bold 11px "Liberation Sans", Arial, sans-serif', fill:'#000'}};
const graphicEls = [].concat(
  [
    txt(46, 10, '$SPX:$VIX', 'bold 13.5px "Liberation Sans", Arial, sans-serif'),
    txt(117, 10.5, '(S&P 500 Large Cap Index/Volatility Index - New Methodology)', '10.8px "Liberation Sans", Arial, sans-serif'),
    txt(421, 10.5, 'INDX/INDX', '9.7px "DejaVu Sans", sans-serif'),
    txt(46, 23.5, '10-Sep-2012', '11px "Liberation Sans", Arial, sans-serif'),
    txt(943, 10, '©StockCharts.com', '10px "DejaVu Sans", sans-serif', '#777', 'right'),
    headerEl,
    {type:'polygon', z:40, silent:true, shape:{points:[[936,21.5],[943,21.5],[939.5,25.5]]}, style:{fill:'#7a4a30'}},
    txt(48, 36.5, '$NYDEC (30 min)', PANELFONT, '#000', 'left', '#fff'),
    txt(48, 180.5, '$NYADV:$NYDEC (30 min)', PANELFONT, '#000', 'left', '#fff'),
    txt(48, 386.5, '$SPX:$VIX (30 min)', PANELFONT, '#000', 'left', '#fff'),
    txt(48, 813.5, '$NYADV (30 min)', PANELFONT, '#000', 'left', '#fff')
  ],
  box(232.5, 27, 597, 21.5, ['Simple trading setup for short-term (i.e. 2-5 day of holding.)  Not recommended for novice traders!!!'], '#0000ee', 234.5, 38, 0, 11.55),
  box(300.5, 74.8, 465, 22, ['BUY when a) Market in Accumulation Phase and b) both BUY signals confirmed.'], '#007a00', 302.5, 86, 0, 11.38),
  box(269.5, 124.8, 510, 22, ['SELL/SHORT when a) Market in Distribution Phase and b) both SELL signals confirmed.'], '#e0201a', 271.5, 136, 0),
  box(326.5, 172.8, 355, 37.5, ['Black above Green line = Accumulation Phase -> Rally soon.','Black below Green line = Distribution Phase -> Pull back soon.'], '#0000ee', 328.5, 184, 16),
  box(328.5, 363.8, 331, 38, ['Blue crossing above black line = BUY signal confirmed.','Blue crossing below black line = SELL signal confirmed.'], '#0000ee', 330.5, 375, 16),
  box(397.8, 808.5, 332.5, 38, ['Green crossing above blue line = BUY signal confirmed.','Green crossing below blue line = SELL signal confirmed.'], '#0000ee', 400, 820.3, 16)
);

const chart = echarts.init(document.getElementById('c'), null, {renderer:'canvas', width:990, height:1029});
chart.setOption({
  animation:false, backgroundColor:'#fff',
  grid:grids, xAxis:xAxes, yAxis:yAxes, series, tooltip:{show:false}, legend:{show:false},
  graphic:{elements:graphicEls}
});
</script>
</body>
</html>
